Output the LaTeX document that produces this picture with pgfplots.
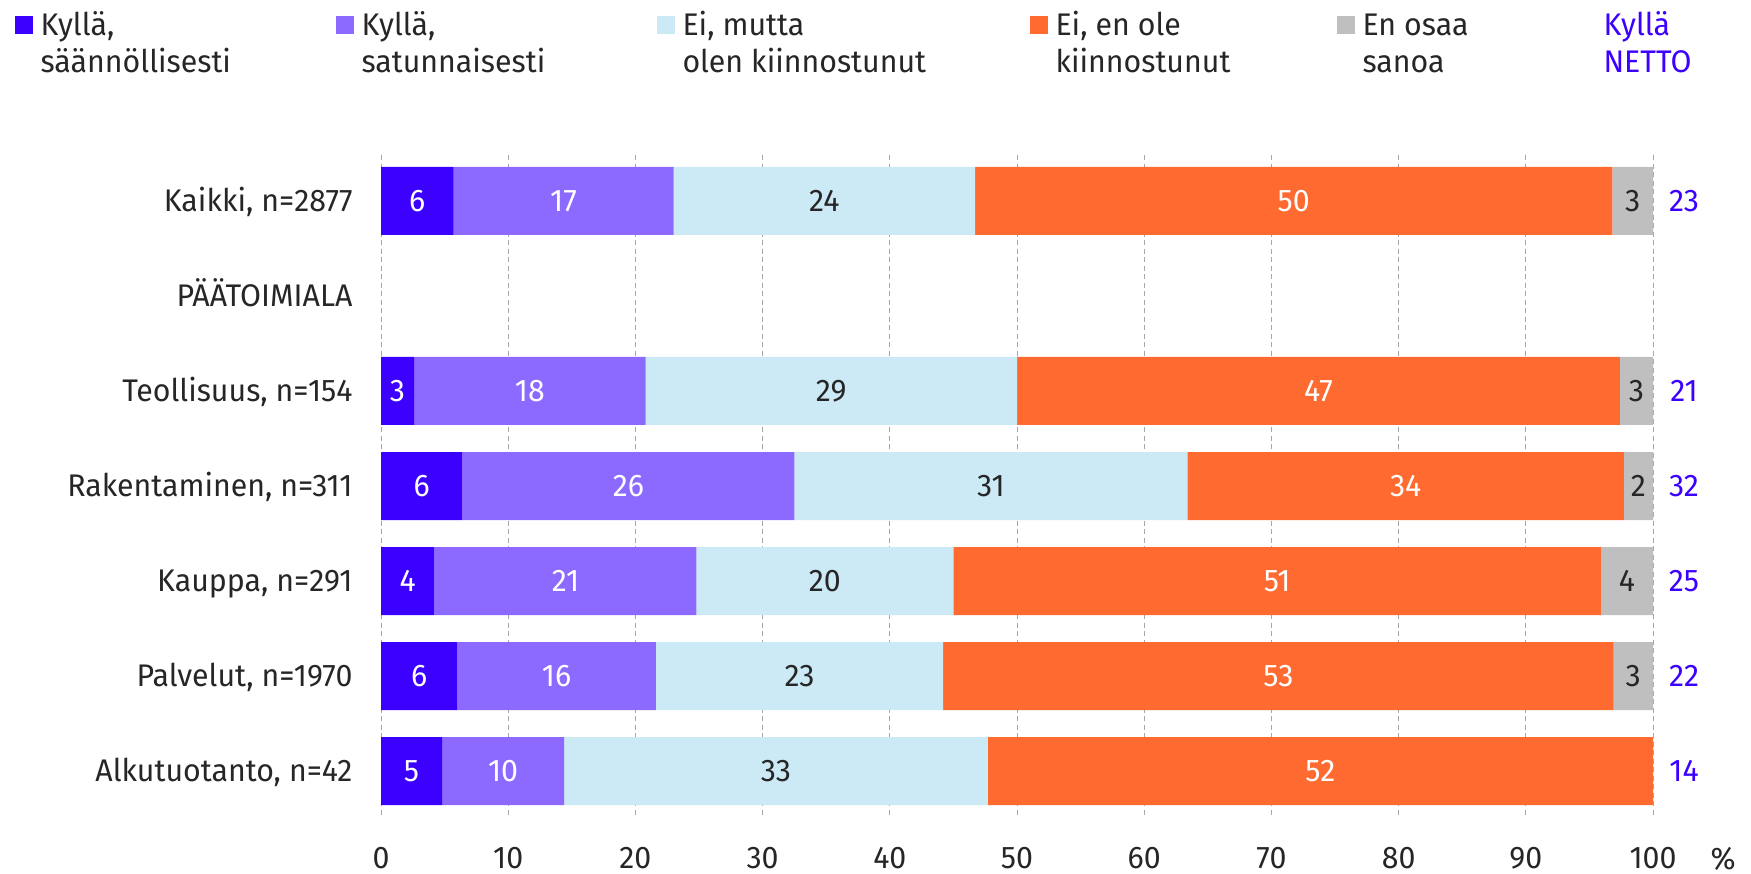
\documentclass[border=0pt]{standalone}
\usepackage{fontspec}
\setmainfont{Fira Sans}[FakeStretch=0.97]
\usepackage{pgfplots}
\pgfplotsset{compat=1.18}

\definecolor{saan}{HTML}{3C00FF}
\definecolor{satu}{HTML}{8C69FF}
\definecolor{kiin}{HTML}{CCEAF5}
\definecolor{eiole}{HTML}{FF6A30}
\definecolor{eos}{HTML}{BFBFBF}
\definecolor{txt}{HTML}{262626}
\definecolor{gridc}{HTML}{A6A6A6}

% stacked labels sit in the middle of the segment already; zeros left out
\pgfplotsset{seglabel/.style={
    visualization depends on={rawx \as \rawx},
    nodes near coords={\pgfmathfloatparsenumber{\rawx}\pgfmathfloatifflags{\pgfmathresult}{0}{}{\pgfmathprintnumber[fixed,precision=0]{\rawx}}},
    every node near coord/.append style={anchor=center, inner sep=0pt, text=#1}},
  frame/.style={
    at={(152.4pt,-62pt)}, anchor=north west,
    scale only axis, width=508.8pt, height=264.8pt,
    xmin=0, xmax=100, ymin=-0.484, ymax=6.484, y dir=reverse, clip=false}}

\begin{document}
\fontsize{12.5}{15}\selectfont\color{txt}
\begin{tikzpicture}[x=1pt,y=1pt]
\useasboundingbox (0,0) rectangle (700.4,-349.6);
\begin{axis}[frame,
    xbar stacked, bar width=27.2pt,
    xtick={0,10,...,100}, ytick={0,...,6},
    yticklabels={{Kaikki, n=2877},PÄÄTOIMIALA,{Teollisuus, n=154},{Rakentaminen, n=311},{Kauppa, n=291},{Palvelut, n=1970},{Alkutuotanto, n=42}},
    /pgf/number format/assume math mode=true,
    axis line style={draw=none}, major tick length=0pt,
    xmajorgrids, major grid style={gridc, line width=0.4pt, dash pattern=on 2pt off 1.4pt},
    xticklabel style={anchor=north, inner sep=0pt, yshift=-12pt, text=txt},
    yticklabel style={anchor=base east, inner sep=0pt, xshift=-11.2pt, yshift=-4.3pt, text=txt},
  ]
  \addplot[fill=saan, draw=none, seglabel=white] coordinates
    {(5.7,0) (0,1) (2.6,2) (6.4,3) (4.2,4) (6.0,5) (4.8,6)};
  \addplot[fill=satu, draw=none, seglabel=white] coordinates
    {(17.3,0) (0,1) (18.2,2) (26.1,3) (20.6,4) (15.6,5) (9.6,6)};
  \addplot[fill=kiin, draw=none, seglabel=txt] coordinates
    {(23.7,0) (0,1) (29.2,2) (30.9,3) (20.2,4) (22.6,5) (33.3,6)};
  \addplot[fill=eiole, draw=none, seglabel=white] coordinates
    {(50.1,0) (0,1) (47.4,2) (34.3,3) (50.9,4) (52.7,5) (52.3,6)};
  \addplot[fill=eos, draw=none, seglabel=txt] coordinates
    {(3.2,0) (0,1) (2.6,2) (2.3,3) (4.1,4) (3.1,5) (0,6)};
\end{axis}
% Kyllä NETTO column, same frame
\begin{axis}[frame, hide axis]
  \addplot[draw=none, mark=none, point meta=explicit symbolic, nodes near coords,
    every node near coord/.append style={anchor=center, inner sep=0pt, xshift=12.4pt, text=saan}]
    coordinates {(100,0) [23] (100,2) [21] (100,3) [32] (100,4) [25] (100,5) [22] (100,6) [14]};
\end{axis}
\node[anchor=base, inner sep=0pt] at (689.2,-347.6) {\%};

% legend
\fill[saan] (6,-6.4) rectangle (13.2,-13.6);
\node[anchor=base west, inner sep=0pt] at (16,-14.4) {Kyllä,};
\node[anchor=base west, inner sep=0pt] at (16,-29.1) {säännöllisesti};
\fill[satu] (134.4,-6.4) rectangle (141.6,-13.6);
\node[anchor=base west, inner sep=0pt] at (144.4,-14.4) {Kyllä,};
\node[anchor=base west, inner sep=0pt] at (144.4,-29.1) {satunnaisesti};
\fill[kiin] (262.8,-6.4) rectangle (270,-13.6);
\node[anchor=base west, inner sep=0pt] at (272.8,-14.4) {Ei, mutta};
\node[anchor=base west, inner sep=0pt] at (272.8,-29.1) {olen kiinnostunut};
\fill[eiole] (412,-6.4) rectangle (419.2,-13.6);
\node[anchor=base west, inner sep=0pt] at (422,-14.4) {Ei, en ole};
\node[anchor=base west, inner sep=0pt] at (422,-29.1) {kiinnostunut};
\fill[eos] (534.8,-6.4) rectangle (542,-13.6);
\node[anchor=base west, inner sep=0pt] at (544.8,-14.4) {En osaa};
\node[anchor=base west, inner sep=0pt] at (544.8,-29.1) {sanoa};
\node[anchor=base west, inner sep=0pt, text=saan] at (641.2,-14.4) {Kyllä};
\node[anchor=base west, inner sep=0pt, text=saan] at (641.2,-29.1) {NETTO};
\end{tikzpicture}
\end{document}
